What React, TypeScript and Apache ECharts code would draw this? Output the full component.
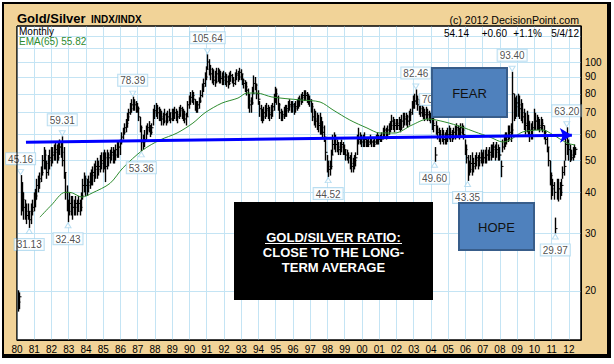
import React, { useEffect, useRef } from 'react';
import * as echarts from 'echarts';

const startYear = 1980;

// Monthly bars (Jan 1980 .. May 2012): high, low, close
const highs = [
  20.1, 19.8, 45.16, 43, 40, 38, 37, 37, 35, 37, 38, 40,
  41, 44, 45, 46, 48, 52, 55, 54, 50, 52, 54, 55,
  55, 56, 57, 56, 57, 58, 57, 59.31, 55, 46, 42, 38,
  40, 39, 39, 38, 39, 38, 39, 38, 40, 44, 46, 45,
  44, 45, 46, 47, 48, 49, 50, 51, 50, 52, 53, 53,
  54, 53, 54, 53, 54, 55, 55, 54, 56, 57, 57, 58,
  61, 63, 65, 67, 70, 72, 75, 77, 78.39, 77, 76, 75,
  73, 68, 64, 60, 62, 64, 65, 66, 64, 65, 72, 74,
  75, 74, 73, 72, 71, 70, 72, 70, 71, 72, 70, 72,
  72, 73, 72, 71, 73, 74, 73, 72, 71, 70, 76, 79,
  81, 82, 81, 77, 76, 76, 78, 82, 86, 89, 93, 97,
  105.64, 102, 98, 96, 95, 94, 96, 96, 95, 94, 93, 94,
  93, 92, 91, 93, 94, 92, 90, 93, 95, 94, 96, 95,
  92, 89, 88, 87, 83, 80, 78, 84, 91, 90, 86, 82,
  76, 74, 72, 73, 74, 75, 74, 73, 74, 75, 80, 84,
  83, 79, 75, 72, 71, 73, 74, 74, 76, 77, 76, 76,
  75, 76, 77, 78, 79, 80, 81, 82, 82, 81, 80, 79,
  77, 75, 72, 71, 70, 69, 70, 68, 66, 64, 58, 52,
  50, 50, 54, 60, 61, 60, 58, 57, 57, 58, 57, 56,
  54, 54, 53, 52, 53, 51, 52, 53, 60, 63, 61, 60,
  60, 61, 59, 58, 59, 60, 59, 58, 59, 60, 61, 60,
  60, 61, 63, 64, 63, 64, 65, 66, 69, 68, 67, 67,
  67, 68, 67, 69, 70, 70, 70, 69, 71, 72, 76, 79,
  80, 82.46, 79, 77, 75, 74, 73, 72, 73, 72, 71, 70,
  69, 68, 55, 66, 64, 63, 62, 63, 62, 61, 62, 63,
  64, 63, 62, 63, 64, 65, 64, 63, 65, 65, 64, 58,
  56, 52, 50, 52, 53, 51, 52, 53, 52, 53, 54, 53,
  54, 54, 55, 54, 55, 56, 56, 57, 56, 57, 56, 55,
  50, 58, 60, 61, 61, 64, 64, 65, 93.4, 80, 78, 79,
  80, 79, 77, 75, 72, 70, 71, 69, 66, 65, 66, 72,
  70, 69, 68, 67, 68, 67, 64, 62, 59, 55, 50, 46,
  44, 43, 33.5, 44, 44, 43, 44, 48, 50, 60, 63.2, 58,
  56, 54, 55, 56, 55,
];
const lows = [
  17.3, 17.6, 34, 35, 33, 33, 32, 33, 31.13, 32, 34, 35,
  36, 38, 40, 41, 43, 45, 47, 47, 44, 45, 47, 48,
  49, 50, 50, 49, 50, 52, 51, 48, 44, 38, 35, 32.43,
  34, 34, 33, 34, 34, 34, 35, 34, 35, 38, 40, 39,
  39, 40, 41, 42, 42, 43, 44, 44, 45, 46, 47, 46,
  47, 43, 47, 48, 49, 50, 49, 49, 50, 51, 51, 52,
  56, 58, 60, 61, 63, 66, 69, 70, 71, 71, 70, 70,
  66, 61, 53.36, 54, 55, 58, 60, 61, 59, 60, 64, 67,
  68, 67, 66, 66, 64, 64, 65, 64, 65, 66, 65, 66,
  66, 67, 66, 65, 67, 68, 67, 66, 65, 64, 68, 72,
  74, 75, 74, 71, 70, 70, 72, 75, 78, 81, 84, 88,
  95, 91, 88, 86, 85, 84, 86, 87, 86, 86, 85, 85,
  85, 84, 83, 85, 87, 86, 84, 85, 88, 87, 88, 88,
  85, 83, 81, 79, 72, 70, 70, 74, 80, 82, 77, 74,
  68, 66, 65, 66, 67, 68, 67, 66, 67, 68, 71, 75,
  74, 71, 67, 66, 66, 67, 68, 68, 70, 71, 70, 70,
  69, 70, 71, 72, 73, 74, 75, 76, 76, 75, 74, 73,
  70, 66, 64, 63, 62, 61, 60, 60, 59, 57, 50, 46,
  44.52, 45, 47, 52, 54, 53, 53, 52, 52, 53, 52, 52,
  50, 50, 49, 47, 46, 46, 47, 48, 52, 56, 56, 55,
  55, 55, 55, 55, 55, 56, 55, 55, 55, 56, 56, 56,
  57, 57, 58, 59, 58, 59, 60, 61, 62, 62, 61, 62,
  62, 62, 61, 62, 63, 64, 64, 63, 64, 66, 69, 72,
  72, 74, 71, 69, 68, 68, 67, 66, 67, 66, 66, 65,
  62, 61, 49.6, 60, 58, 57, 56, 57, 56, 56, 56, 57,
  58, 57, 57, 58, 58, 59, 59, 58, 59, 60, 58, 52,
  49, 43.35, 45, 46, 45, 46, 47, 48, 47, 48, 49, 48,
  49, 49, 49, 50, 50, 50, 51, 51, 50, 51, 50, 50,
  44.5, 53, 54, 55, 56, 57, 58, 57, 60, 66, 67, 68,
  68, 67, 66, 65, 62, 60, 61, 59, 57, 58, 58, 62,
  62, 62, 62, 61, 62, 61, 58, 56, 53, 48, 42, 38,
  39, 38, 29.97, 38, 37.5, 38, 39, 44, 45, 50, 52, 50,
  49.5, 50, 50, 51, 52,
];
const closes = [
  18.5, 19.2, 40, 38, 36, 35, 34, 35, 33, 35, 36, 38,
  39, 42, 43, 44, 46, 50, 52, 49, 46, 50, 51, 53,
  52, 53, 54, 51, 55, 55, 53, 50, 46, 40, 37, 35,
  37, 36, 36, 36, 37, 35, 37, 36, 39, 42, 44, 42,
  42, 43, 44, 45, 46, 47, 48, 47, 48, 49, 50, 51,
  51, 48, 52, 51, 52, 53, 52, 52, 54, 55, 55, 57,
  59, 61, 63, 65, 68, 70, 72, 74, 75, 74, 73, 72,
  68, 63, 57, 57, 58, 62, 63, 64, 61, 63, 70, 71,
  72, 70, 69, 68, 67, 66, 69, 66, 68, 70, 67, 69,
  70, 70, 69, 68, 71, 72, 70, 69, 67, 68, 74, 76,
  78, 79, 77, 73, 72, 74, 76, 79, 84, 86, 90, 95,
  100, 95, 92, 90, 88, 87, 92, 93, 90, 89, 88, 90,
  90, 87, 86, 90, 91, 88, 86, 91, 92, 90, 93, 92,
  88, 86, 84, 82, 76, 74, 75, 80, 86, 85, 80, 77,
  72, 69, 68, 70, 71, 72, 70, 69, 71, 73, 78, 80,
  78, 74, 70, 68, 69, 70, 71, 72, 73, 74, 73, 74,
  72, 73, 75, 76, 77, 78, 79, 80, 79, 78, 77, 76,
  73, 68, 67, 66, 65, 64, 64, 63, 61, 59, 53, 48,
  47, 48, 52, 56, 58, 56, 55, 54, 55, 56, 54, 54,
  52, 51, 51, 49, 48, 49, 50, 51, 57, 58, 58, 57,
  57, 58, 56, 56, 57, 57, 57, 56, 57, 58, 58, 58,
  58, 59, 61, 62, 60, 62, 63, 64, 66, 65, 64, 65,
  64, 65, 63, 66, 68, 67, 68, 66, 69, 70, 74, 76,
  76, 77, 74, 72, 70, 71, 70, 69, 70, 69, 68, 67,
  65, 64, 52, 62, 61, 60, 59, 60, 58, 58, 59, 60,
  61, 60, 59, 61, 62, 63, 62, 61, 63, 62, 60, 54,
  51, 46, 47, 49, 48, 49, 50, 51, 50, 51, 52, 51,
  51, 52, 52, 52, 53, 54, 54, 55, 53, 54, 52, 52,
  48, 55, 57, 58, 59, 60, 61, 62, 80, 74, 73, 75,
  74, 72, 70, 68, 65, 64, 66, 62, 60, 62, 63, 66,
  66, 65, 64, 63, 65, 64, 61, 58, 55, 50, 45, 41,
  42, 40, 31, 41, 41, 40, 42, 46, 48, 56, 56, 54,
  52, 51, 53, 54, 54.14,
];

// EMA(65)
const emaDates = [
  1981.33, 1982.0, 1982.78, 1983.07, 1983.77, 1984.35, 1985.39, 1986.14, 1987.3, 1988.29,
  1989.28, 1990.2, 1990.9, 1991.88, 1992.81, 1993.33, 1993.91, 1994.78, 1996.41, 1997.57,
  1998.32, 1999.3, 2000.29, 2001.04, 2001.91, 2002.9, 2003.83, 2004.81, 2005.8, 2006.55,
  2007.42, 2008.17, 2008.58, 2009.33, 2010.49, 2011.07, 2011.88, 2012.35,
];
const emaValues = [
  33.6, 36.6, 40, 40, 38.7, 39.8, 42.6, 47.5, 53.9, 57.8,
  60.7, 65.1, 70, 74.9, 77.6, 80.4, 80.4, 78.2, 76.6, 75.5,
  71.4, 66.5, 62.9, 60.7, 60.7, 64.2, 67, 65.6, 63.3, 61.2,
  59, 57, 57.8, 61.2, 62, 60, 56.6, 55.82,
];

// long-term average line (start, end)
const avgLine = [[1980.52, 56.9], [2012.17, 59.8]];

const yLabelValues = [20, 30, 40, 50, 60, 70, 80, 90, 100];
const yGridValues = [20, 30, 40, 50, 60, 70, 80, 90, 100, 110, 120];

// annotated extremes: month index and which end of the bar
const annHigh = [2, 31, 80, 132, 277, 344, 382];
const annLow = [8, 35, 86, 216, 290, 313, 374];

const FONT = 'Liberation Sans, Arial, sans-serif';
const GRID_C = '#C4E4F4';
const TAN = '#F1D398';
const LBL_BORDER = '#A9D6EE';

const monthX = (i: number) => startYear + (i + 0.5) / 12;

export default function App() {
  const ref = useRef<HTMLDivElement>(null);
  useEffect(() => {
    const chart = echarts.init(ref.current!, null, { renderer: 'svg' });
    const bars = highs.map((h, i) => [monthX(i), h, lows[i], closes[i]]);
    const ema = emaDates.map((d, i) => [d, emaValues[i]]);
    const labelStyle = {
      show: true,
      fontSize: 10,
      fontFamily: FONT,
      color: '#222',
      backgroundColor: '#fff',
      borderColor: LBL_BORDER,
      borderWidth: 1,
      padding: [1, 2, 0, 2],
      distance: 5,
    };
    const pointerStyle = { color: '#fff', borderColor: LBL_BORDER, borderWidth: 1 };
    const annData: any[] = [];
    annHigh.forEach((m) =>
      annData.push({
        value: [monthX(m), highs[m]],
        symbol: 'triangle',
        symbolSize: [6, 5],
        symbolRotate: 180,
        symbolOffset: [0, -3],
        itemStyle: pointerStyle,
        label: { ...labelStyle, position: 'top', formatter: highs[m].toFixed(2) },
      })
    );
    annLow.forEach((m) =>
      annData.push({
        value: [monthX(m), lows[m]],
        symbol: 'triangle',
        symbolSize: [6, 5],
        symbolOffset: [0, 3],
        itemStyle: pointerStyle,
        label: { ...labelStyle, position: 'bottom', formatter: lows[m].toFixed(2) },
      })
    );
    annData.push({ value: [2003.8, 71.4], symbolSize: 0, label: { ...labelStyle, position: 'top', formatter: '70' } });

    const option: any = {
      animation: false,
      backgroundColor: '#ffffff',
      grid: { left: 17, right: 33, top: 26, bottom: 24, show: true, backgroundColor: '#fff', borderColor: '#000', borderWidth: 1 },
      xAxis: {
        type: 'value',
        min: 1980,
        max: 2012.7,
        interval: 1,
        axisLine: { lineStyle: { color: '#000', width: 1 } },
        axisTick: { show: false },
        axisLabel: {
          formatter: (v: number) => String(Math.round(v) % 100).padStart(2, '0'),
          fontSize: 10,
          fontFamily: FONT,
          color: '#000',
          margin: 4,
          showMaxLabel: false,
        },
        splitLine: { show: true, lineStyle: { color: GRID_C, width: 1 } },
      },
      yAxis: {
        type: 'log',
        logBase: 10,
        min: 14.17,
        max: 128.8,
        position: 'right',
        axisLine: { show: true, lineStyle: { color: '#000' } },
        axisTick: { show: false },
        axisLabel: { show: false },
        splitLine: { show: false },
      },
      series: [
        {
          type: 'line',
          name: 'grid',
          data: [],
          silent: true,
          markLine: {
            z: 1,
            silent: true,
            symbol: ['none', 'none'],
            lineStyle: { color: GRID_C, width: 1, type: 'solid' },
            label: { show: false },
            data: yGridValues.map((v) => ({
              yAxis: v,
              label: yLabelValues.includes(v)
                ? { show: true, position: 'end', formatter: String(v), color: '#000', fontSize: 10, fontFamily: FONT, distance: 4 }
                : { show: false },
            })),
          },
        },
        {
          type: 'custom',
          name: 'Gold/Silver',
          z: 3,
          data: bars,
          encode: { x: 0, y: [1, 2] },
          renderItem: (params: any, api: any) => {
            const x = api.value(0);
            const hi = api.coord([x, api.value(1)]);
            const lo = api.coord([x, api.value(2)]);
            const cl = api.coord([x, api.value(3)]);
            const px = Math.round(hi[0]) + 0.5;
            return {
              type: 'group',
              children: [
                { type: 'line', shape: { x1: px, y1: hi[1], x2: px, y2: lo[1] }, style: { stroke: '#000', lineWidth: 1.4 } },
                { type: 'line', shape: { x1: px, y1: cl[1], x2: px + 2, y2: cl[1] }, style: { stroke: '#000', lineWidth: 1 } },
              ],
            };
          },
        },
        {
          type: 'line',
          name: 'EMA(65)',
          z: 4,
          data: ema,
          smooth: 0.3,
          showSymbol: false,
          lineStyle: { color: '#2E8B2E', width: 1 },
          markLine: {
            z: 8,
            silent: true,
            symbol: ['none', 'arrow'],
            symbolSize: [11, 12],
            lineStyle: { color: '#0000FF', width: 3, type: 'solid' },
            label: { show: false },
            data: [[{ coord: avgLine[0] }, { coord: avgLine[1] }]],
          },
        },
        {
          type: 'scatter',
          name: 'labels',
          z: 6,
          data: annData,
        },
      ],
      graphic: [
        { type: 'rect', z: -20, shape: { x: 2, y: 2, width: 609, height: 356 }, style: { fill: '#000' } },
        { type: 'rect', z: -19, shape: { x: 4, y: 4, width: 603, height: 350 }, style: { fill: TAN } },
        { type: 'rect', z: 20, shape: { x: 17, y: 26, width: 564, height: 314 }, style: { fill: 'none', stroke: '#000', lineWidth: 1 } },
        { type: 'text', z: 20, x: 17, y: 18, style: { text: 'Gold/Silver', font: `bold 13px ${FONT}`, fill: '#000', verticalAlign: 'middle' } },
        { type: 'text', z: 20, x: 91, y: 19.5, style: { text: 'INDX/INDX', font: `bold 10px ${FONT}`, fill: '#000', verticalAlign: 'middle' } },
        { type: 'text', z: 20, x: 579, y: 20, style: { text: '(c) 2012 DecisionPoint.com', font: `10.6px ${FONT}`, fill: '#000', align: 'right', verticalAlign: 'middle' } },
        { type: 'text', z: 20, x: 469, y: 33.5, style: { text: '54.14', font: `10px ${FONT}`, fill: '#000', align: 'right', verticalAlign: 'middle' } },
        { type: 'text', z: 20, x: 507, y: 33.5, style: { text: '+0.60', font: `10px ${FONT}`, fill: '#000', align: 'right', verticalAlign: 'middle' } },
        { type: 'text', z: 20, x: 542, y: 33.5, style: { text: '+1.1%', font: `10px ${FONT}`, fill: '#000', align: 'right', verticalAlign: 'middle' } },
        { type: 'text', z: 20, x: 579, y: 33.5, style: { text: '5/4/12', font: `10px ${FONT}`, fill: '#000', align: 'right', verticalAlign: 'middle' } },
        { type: 'text', z: 20, x: 19, y: 31.5, style: { text: 'Monthly', font: `10px ${FONT}`, fill: '#000', verticalAlign: 'middle' } },
        { type: 'text', z: 20, x: 19, y: 41, style: { text: 'EMA(65) 55.82', font: `10px ${FONT}`, fill: '#2E8B2E', verticalAlign: 'middle' } },
        // black message box
        { type: 'rect', z: 30, shape: { x: 234, y: 202, width: 199, height: 98 }, style: { fill: '#000' } },
        { type: 'text', z: 31, x: 333.5, y: 237, style: { text: 'GOLD/SILVER RATIO:', font: `bold 13px ${FONT}`, fill: '#fff', align: 'center', verticalAlign: 'middle' } },
        { type: 'line', z: 31, shape: { x1: 265, y1: 243.5, x2: 402, y2: 243.5 }, style: { stroke: '#fff', lineWidth: 1 } },
        { type: 'text', z: 31, x: 333.5, y: 252, style: { text: 'CLOSE TO THE LONG-', font: `bold 13px ${FONT}`, fill: '#fff', align: 'center', verticalAlign: 'middle' } },
        { type: 'text', z: 31, x: 333.5, y: 267, style: { text: 'TERM AVERAGE', font: `bold 13px ${FONT}`, fill: '#fff', align: 'center', verticalAlign: 'middle' } },
        // FEAR box
        { type: 'rect', z: 30, shape: { x: 432, y: 68, width: 75, height: 49 }, style: { fill: '#4F81BD', stroke: '#385D8A', lineWidth: 2 } },
        { type: 'text', z: 31, x: 469.5, y: 93, style: { text: 'FEAR', font: `13px ${FONT}`, fill: '#111', align: 'center', verticalAlign: 'middle' } },
        // HOPE box
        { type: 'rect', z: 30, shape: { x: 459, y: 203, width: 75, height: 47 }, style: { fill: '#4F81BD', stroke: '#385D8A', lineWidth: 2 } },
        { type: 'text', z: 31, x: 496.5, y: 227, style: { text: 'HOPE', font: `13px ${FONT}`, fill: '#111', align: 'center', verticalAlign: 'middle' } },
      ],
    };
    chart.setOption(option);
    return () => chart.dispose();
  }, []);
  return <div ref={ref} style={{ position: 'absolute', left: 0, top: 0, width: 614, height: 364 }} />;
}
